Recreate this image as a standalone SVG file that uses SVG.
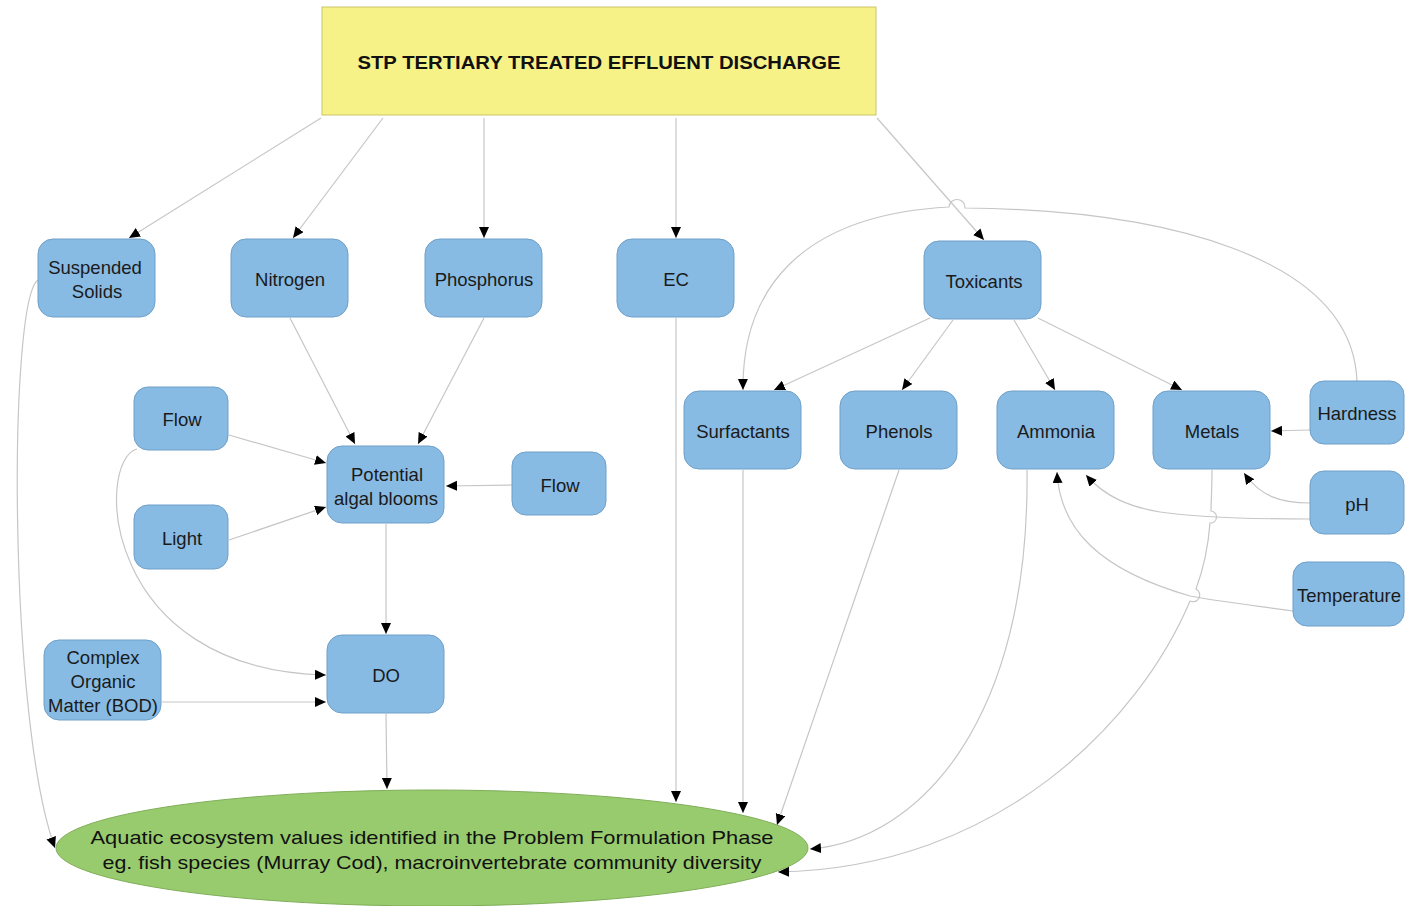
<svg xmlns="http://www.w3.org/2000/svg" width="1406" height="906" viewBox="0 0 1406 906">
<defs>
<marker id="ah" markerWidth="12" markerHeight="11" refX="11" refY="5" orient="auto" markerUnits="userSpaceOnUse"><path d="M0,0 L11,5 L0,10 z" fill="#000"/></marker>
<style>
.n{fill:#88bbe3;stroke:#6f9fc8;stroke-width:1}
.t{font-family:"Liberation Sans",Arial,sans-serif;font-size:18.5px;fill:#1a1a1a;text-anchor:middle}
.c{fill:none;stroke:#c6c6c6;stroke-width:1.2;marker-end:url(#ah)}
</style>
</defs>
<rect width="1406" height="906" fill="#fff"/>
<g id="connectors">
<path class="c" d="M321,118 L129,238"/>
<path class="c" d="M383,118 L293,238"/>
<path class="c" d="M484,118 L484,238"/>
<path class="c" d="M676,118 L676,238"/>
<path class="c" d="M877,118 L984,240"/>
<path class="c" d="M38,280 C8,300 8,720 55,848"/>
<path class="c" d="M290,318 L355,444"/>
<path class="c" d="M484,318 L418,444"/>
<path class="c" d="M229,435 L326,463"/>
<path class="c" d="M229,540 L326,507"/>
<path class="c" d="M512,485 L446,486"/>
<path class="c" d="M386,524 L386,634"/>
<path class="c" d="M137,449 C95,460 100,670 326,675"/>
<path class="c" d="M162,702 L326,702"/>
<path class="c" d="M386,714 L387,789"/>
<path class="c" d="M676,318 L676,802"/>
<path class="c" d="M930,318 L774,390"/>
<path class="c" d="M953,320 L902,390"/>
<path class="c" d="M1014,320 L1055,390"/>
<path class="c" d="M1038,318 L1182,390"/>
<path class="c" d="M1357,381 C1352,255 1160,210 965,208 A8,8 0 0 0 949,207 C800,215 742,290 743,390"/>
<path class="c" d="M1310,430 L1271,431"/>
<path class="c" d="M1310,503 C1280,503 1260,496 1244,473"/>
<path class="c" d="M1310,519 C1260,519 1200,518 1160,512 C1130,507 1105,497 1086,475"/>
<path class="c" d="M1293,611 C1250,605 1210,600 1190,596 C1100,570 1060,530 1057,472"/>
<path class="c" d="M743,470 L743,813"/>
<path class="c" d="M899,470 L777,825"/>
<path class="c" d="M1027,470 C1030,720 920,840 810,849"/>
<path class="c" d="M1212,470 C1212,490 1211,503 1211,511 A6,6 0 0 1 1210,523 C1208,550 1203,570 1196,589 A6,6 0 0 1 1190,601 C1140,720 1000,868 778,872"/>
</g>
<g id="n-top"><rect x="322" y="7" width="554" height="108" fill="#f6f287" stroke="#cbc46a" stroke-width="1"/><text x="599" y="69" style="font-family:'Liberation Sans',Arial,sans-serif;font-weight:bold;font-size:18px;fill:#111;text-anchor:middle" textLength="483" lengthAdjust="spacingAndGlyphs">STP TERTIARY TREATED EFFLUENT DISCHARGE</text></g>
<g id="n-ss"><rect class="n" x="38" y="239" width="117" height="78" rx="15"/><text class="t" x="95" y="274">Suspended</text><text class="t" x="97" y="298">Solids</text></g>
<g id="n-nitrogen"><rect class="n" x="231" y="239" width="117" height="78" rx="15"/><text class="t" x="290" y="286">Nitrogen</text></g>
<g id="n-phosphorus"><rect class="n" x="425" y="239" width="117" height="78" rx="15"/><text class="t" x="484" y="286">Phosphorus</text></g>
<g id="n-ec"><rect class="n" x="617" y="239" width="117" height="78" rx="15"/><text class="t" x="676" y="286">EC</text></g>
<g id="n-toxicants"><rect class="n" x="924" y="241" width="117" height="78" rx="15"/><text class="t" x="984" y="288">Toxicants</text></g>
<g id="n-flow1"><rect class="n" x="134" y="387" width="94" height="63" rx="14"/><text class="t" x="182" y="426">Flow</text></g>
<g id="n-light"><rect class="n" x="134" y="505" width="94" height="64" rx="14"/><text class="t" x="182" y="545">Light</text></g>
<g id="n-pab"><rect class="n" x="327" y="446" width="117" height="77" rx="15"/><text class="t" x="387" y="481">Potential</text><text class="t" x="386" y="505">algal blooms</text></g>
<g id="n-flow2"><rect class="n" x="512" y="452" width="94" height="63" rx="14"/><text class="t" x="560" y="492">Flow</text></g>
<g id="n-do"><rect class="n" x="327" y="635" width="117" height="78" rx="15"/><text class="t" x="386" y="682">DO</text></g>
<g id="n-com"><rect class="n" x="44" y="640" width="117" height="80" rx="15"/><text class="t" x="103" y="664">Complex</text><text class="t" x="103" y="688">Organic</text><text class="t" x="103" y="712">Matter (BOD)</text></g>
<g id="n-surf"><rect class="n" x="684" y="391" width="117" height="78" rx="15"/><text class="t" x="743" y="438">Surfactants</text></g>
<g id="n-phenols"><rect class="n" x="840" y="391" width="117" height="78" rx="15"/><text class="t" x="899" y="438">Phenols</text></g>
<g id="n-ammonia"><rect class="n" x="997" y="391" width="117" height="78" rx="15"/><text class="t" x="1056" y="438">Ammonia</text></g>
<g id="n-metals"><rect class="n" x="1153" y="391" width="117" height="78" rx="15"/><text class="t" x="1212" y="438">Metals</text></g>
<g id="n-hardness"><rect class="n" x="1310" y="381" width="94" height="63" rx="14"/><text class="t" x="1357" y="420">Hardness</text></g>
<g id="n-ph"><rect class="n" x="1310" y="471" width="94" height="63" rx="14"/><text class="t" x="1357" y="511">pH</text></g>
<g id="n-temp"><rect class="n" x="1293" y="562" width="111" height="64" rx="14"/><text class="t" x="1349" y="602">Temperature</text></g>
<g id="n-aquatic"><ellipse cx="432" cy="848" rx="376" ry="58" fill="#98cb6e" stroke="#7fae58" stroke-width="1"/><text x="432" y="844" style="font-family:'Liberation Sans',Arial,sans-serif;font-size:19px;fill:#111;text-anchor:middle" textLength="683" lengthAdjust="spacingAndGlyphs">Aquatic ecosystem values identified in the Problem Formulation Phase</text><text x="432" y="869" style="font-family:'Liberation Sans',Arial,sans-serif;font-size:19px;fill:#111;text-anchor:middle" textLength="659" lengthAdjust="spacingAndGlyphs">eg. fish species (Murray Cod), macroinvertebrate community diversity</text></g>
</svg>
